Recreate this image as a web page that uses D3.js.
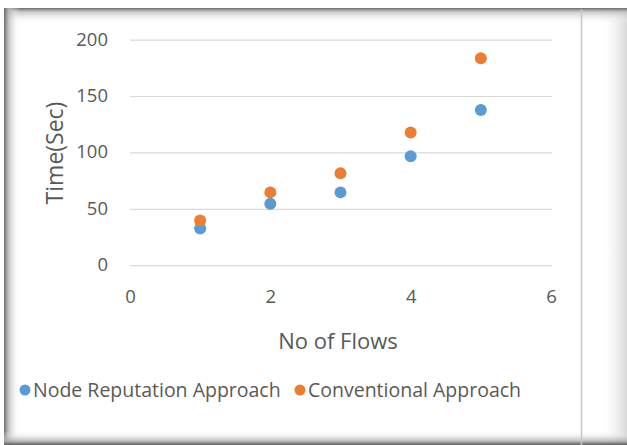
<!DOCTYPE html>
<html>
<head>
<meta charset="utf-8">
<script src="https://cdn.jsdelivr.net/npm/d3@7"></script>
<style>
  html, body { margin: 0; padding: 0; background: #fff; }
  svg { display: block; }
  text { font-family: "Open Sans", "Noto Sans", sans-serif; fill: #595959; }
</style>
</head>
<body>
<svg id="chart" width="627" height="445"></svg>
<script>
// Flows on the x axis, completion time (s) for each approach
const flows = [1, 2, 3, 4, 5];
const nodeReputation = [33, 55, 65, 97, 138];
const conventional = [40, 65, 82, 118, 184];
const xTicks = [0, 2, 4, 6];
const yTicks = [0, 50, 100, 150, 200];
const seriesNames = ["Node Reputation Approach", "Conventional Approach"];
const seriesColors = ["#5b9bd5", "#ed7d31"];

const svg = d3.select("#chart");
const W = 627, H = 445;

// Panel background and soft shaded frame
const defs = svg.append("defs");
function grad(id, x1, y1, x2, y2, stops) {
  const g = defs.append("linearGradient").attr("id", id)
    .attr("x1", x1).attr("y1", y1).attr("x2", x2).attr("y2", y2);
  stops.forEach(s => g.append("stop").attr("offset", s[0]).attr("stop-color", s[1]).attr("stop-opacity", s[2]));
}
grad("gTop", 0, 0, 0, 1, [[0, "#6a6a6a", 1], [0.25, "#bdbdbd", 0.8], [1, "#ffffff", 0]]);
grad("gLeft", 0, 0, 1, 0, [[0, "#6a6a6a", 1], [0.3, "#b8b8b8", 0.8], [1, "#ffffff", 0]]);
grad("gBottom", 0, 1, 0, 0, [[0, "#5a5a5a", 1], [0.3, "#b0b0b0", 0.8], [1, "#ffffff", 0]]);
grad("gRight", 1, 0, 0, 0, [[0, "#c4c4c4", 0.7], [1, "#ffffff", 0]]);

svg.append("rect").attr("x", 0).attr("y", 0).attr("width", W).attr("height", H).attr("fill", "#fff");
svg.append("rect").attr("x", 600).attr("y", 8).attr("width", 27).attr("height", H - 8).attr("fill", "url(#gRight)");
svg.append("rect").attr("x", 4).attr("y", 8).attr("width", W - 4).attr("height", 16).attr("fill", "url(#gTop)");
svg.append("rect").attr("x", 4).attr("y", 8).attr("width", 16).attr("height", H - 8).attr("fill", "url(#gLeft)");
svg.append("rect").attr("x", 4).attr("y", 431).attr("width", W - 4).attr("height", 14).attr("fill", "url(#gBottom)");
svg.append("line").attr("x1", 581.5).attr("x2", 581.5).attr("y1", 9).attr("y2", H)
  .attr("stroke", "#c8c8c8").attr("stroke-width", 1.5);

// Plot area
const x = d3.scaleLinear().domain([0, 6]).range([130, 551]);
const y = d3.scaleLinear().domain([0, 200]).range([265.7, 40.1]);

// Horizontal gridlines
svg.append("g").selectAll("line").data(yTicks).join("line")
  .attr("x1", 130).attr("x2", 552)
  .attr("y1", d => y(d)).attr("y2", d => y(d))
  .attr("stroke", "#d9d9d9").attr("stroke-width", 1.2);

// Y axis labels
const yAxis = d3.axisLeft(y).tickValues(yTicks).tickFormat(d3.format("d")).tickSize(0).tickPadding(0);
const gy = svg.append("g").attr("transform", "translate(108,-1)").call(yAxis);
gy.select(".domain").remove();
gy.selectAll("text").style("font-size", "18.5px").attr("fill", "#595959");

// X axis labels
const xAxis = d3.axisBottom(x).tickValues(xTicks).tickFormat(d3.format("d")).tickSize(0).tickPadding(0);
const gx = svg.append("g").attr("transform", "translate(0,290)").call(xAxis);
gx.select(".domain").remove();
gx.selectAll("text").style("font-size", "18.5px").attr("fill", "#595959");

// Axis titles
svg.append("text").attr("x", 338).attr("y", 349).attr("text-anchor", "middle")
  .style("font-size", "22px").text("No of Flows");
svg.append("text").attr("transform", "translate(63,153) rotate(-90)").attr("text-anchor", "middle")
  .style("font-size", "23px").text("Time(Sec)");

// Markers
const series = [nodeReputation, conventional];
series.forEach((vals, i) => {
  svg.append("g").selectAll("circle").data(flows).join("circle")
    .attr("cx", d => x(d)).attr("cy", (d, j) => y(vals[j]))
    .attr("r", 6).attr("fill", seriesColors[i]);
});

// Legend
const legendX = [25, 300];
const legend = svg.append("g");
seriesNames.forEach((name, i) => {
  legend.append("circle").attr("cx", legendX[i]).attr("cy", 390).attr("r", 5.5).attr("fill", seriesColors[i]);
  legend.append("text").attr("x", legendX[i] + 8).attr("y", 397)
    .style("font-size", "19.5px").text(name);
});
</script>
</body>
</html>
